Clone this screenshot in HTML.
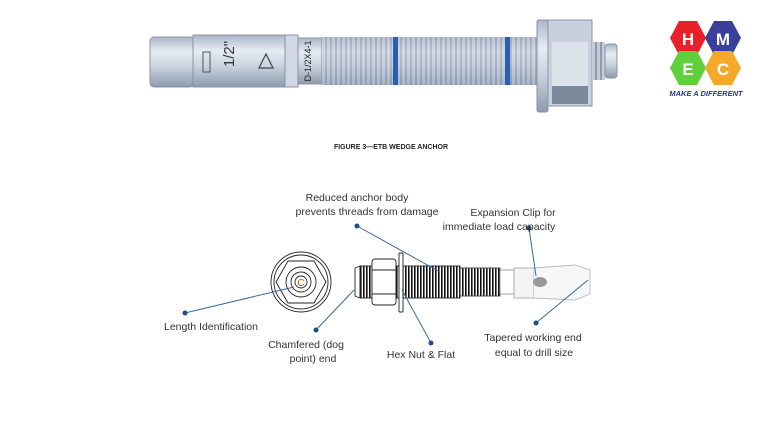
<!DOCTYPE html>
<html><head><meta charset="utf-8"><style>
body{margin:0;background:#fff;width:774px;height:434px;overflow:hidden;font-family:"Liberation Sans",sans-serif}
svg{position:absolute;left:0;top:0}
</style></head><body>
<svg width="774" height="434" viewBox="0 0 774 434" xmlns="http://www.w3.org/2000/svg">
<defs>
<linearGradient id="m" x1="0" y1="0" x2="0" y2="1">
<stop offset="0" stop-color="#a9b6c8"/><stop offset="0.3" stop-color="#e6ecf3"/><stop offset="0.6" stop-color="#c9d2de"/><stop offset="1" stop-color="#8d9aae"/></linearGradient>
<pattern id="th" width="5" height="10" patternUnits="userSpaceOnUse"><rect width="5" height="10" fill="#c3ccd8"/><rect x="0" width="2" height="10" fill="#8f9bae"/></pattern>
<pattern id="bt" width="3" height="10" patternUnits="userSpaceOnUse"><rect width="3" height="10" fill="#fff"/><rect width="1.6" height="10" fill="#111"/></pattern>
</defs>
<!-- top anchor -->
<rect x="150" y="37" width="44" height="50" rx="4" fill="url(#m)" stroke="#8893a4"/>
<rect x="193" y="35" width="105" height="52" fill="url(#m)" stroke="#8893a4"/>
<rect x="285" y="35" width="13" height="52" fill="#cfd8e4" stroke="#8893a4"/>
<rect x="203" y="52" width="7" height="20" fill="none" stroke="#555"/>
<text x="240" y="64" font-size="15" fill="#333" transform="rotate(-90 232 62)" text-anchor="middle">1/2"</text>
<polygon points="266,54 259,68 273,68" fill="none" stroke="#444" stroke-width="1.2"/>
<rect x="298" y="38" width="24" height="46" fill="url(#m)" stroke="#8893a4"/>
<text x="311" y="61" font-size="9" fill="#222" transform="rotate(-90 311 61)" text-anchor="middle">D-1/2X4-1</text>
<rect x="322" y="37" width="215" height="48" fill="url(#th)"/>
<rect x="322" y="37" width="215" height="48" fill="url(#m)" opacity="0.45"/>
<rect x="393" y="37" width="5" height="48" fill="#2a5fb0"/>
<rect x="505" y="37" width="5" height="48" fill="#2a5fb0"/>
<rect x="537" y="20" width="11" height="92" rx="2" fill="url(#m)" stroke="#8893a4"/>
<rect x="548" y="20" width="44" height="86" fill="#c7d0dc" stroke="#8893a4"/>
<rect x="552" y="42" width="36" height="44" fill="#dbe2ea"/>
<rect x="552" y="86" width="36" height="18" fill="#7d8a9d"/>
<rect x="592" y="42" width="13" height="38" fill="url(#th)"/>
<rect x="605" y="44" width="12" height="34" rx="3" fill="url(#m)" stroke="#8893a4"/>
<text x="391" y="149" font-size="7" font-weight="bold" fill="#222" text-anchor="middle">FIGURE 3—ETB WEDGE ANCHOR</text>
<!-- logo -->
<g font-weight="bold" font-size="17" fill="#fff" text-anchor="middle">
<polygon points="670,38 679,21 697,21 706,38 697,55 679,55" fill="#e8202a"/><text x="688" y="45">H</text>
<polygon points="705,38 714,21 732,21 741,38 732,55 714,55" fill="#3a3f9c"/><text x="723" y="45">M</text>
<polygon points="670,68 679,51 697,51 706,68 697,85 679,85" fill="#5fcf3a"/><text x="688" y="75">E</text>
<polygon points="705,68 714,51 732,51 741,68 732,85 714,85" fill="#f5a829"/><text x="723" y="75">C</text>
</g>
<text x="706" y="96" font-size="7.5" font-weight="bold" font-style="italic" fill="#2a3585" text-anchor="middle">MAKE A DIFFERENT</text>
<!-- bottom end view -->
<g fill="none" stroke="#222" stroke-width="0.9">
<circle cx="301" cy="282" r="30"/><circle cx="301" cy="282" r="27"/>
<polygon points="276,282 288,261 314,261 326,282 314,303 288,303"/>
<circle cx="301" cy="282" r="15"/><circle cx="301" cy="282" r="10"/><circle cx="301" cy="282" r="6"/>
</g>
<text x="301" y="286" font-size="10" fill="#c85a1a" text-anchor="middle">C</text>
<!-- bottom anchor -->
<g stroke="#222" stroke-width="0.9" fill="#fff">
<polygon points="355,268 360,266 360,298 355,296"/>
<rect x="360" y="266" width="12" height="32" fill="url(#bt)"/>
<rect x="372" y="259" width="24" height="46" rx="3"/>
<line x1="372" y1="270" x2="396" y2="270"/><line x1="372" y1="294" x2="396" y2="294"/>
<rect x="396" y="266" width="3" height="32" fill="url(#bt)"/>
<rect x="399" y="253" width="4" height="59" rx="1"/>
<rect x="403" y="266" width="57" height="32" fill="url(#bt)"/>
<rect x="460" y="268" width="40" height="28" fill="url(#bt)" stroke="#444"/>
<rect x="500" y="270" width="14" height="24" fill="#fff" stroke="#999"/>
<rect x="514" y="268" width="20" height="30" fill="#f4f4f4" stroke="#aaa"/>
<path d="M534 268 L575 265 L590 270 L590 294 L575 300 L534 298" fill="#f7f7f7" stroke="#bbb"/>
</g>
<ellipse cx="540" cy="282" rx="7" ry="5" fill="#999"/>
<!-- connectors -->
<g stroke="#3a6a9a" stroke-width="1" fill="none">
<line x1="357" y1="226" x2="440" y2="272"/>
<line x1="529" y1="228" x2="536" y2="276"/>
<line x1="185" y1="313" x2="294" y2="287"/>
<line x1="316" y1="330" x2="354" y2="290"/>
<line x1="431" y1="343" x2="402" y2="290"/>
<line x1="536" y1="323" x2="588" y2="280"/>
</g>
<g fill="#1e4e8a">
<circle cx="357" cy="226" r="2.5"/><circle cx="529" cy="228" r="2.5"/><circle cx="185" cy="313" r="2.5"/>
<circle cx="316" cy="330" r="2.5"/><circle cx="431" cy="343" r="2.5"/><circle cx="536" cy="323" r="2.5"/>
</g>
<g font-size="10.5" fill="#333" text-anchor="middle">
<text x="357" y="201">Reduced anchor body</text>
<text x="367" y="215">prevents threads from damage</text>
<text x="513" y="216">Expansion Clip for</text>
<text x="499" y="230">immediate load capacity</text>
<text x="211" y="330">Length Identification</text>
<text x="306" y="348">Chamfered (dog</text>
<text x="313" y="362">point) end</text>
<text x="421" y="358">Hex Nut &amp; Flat</text>
<text x="533" y="341">Tapered working end</text>
<text x="534" y="356">equal to drill size</text>
</g>
</svg>
</body></html>
